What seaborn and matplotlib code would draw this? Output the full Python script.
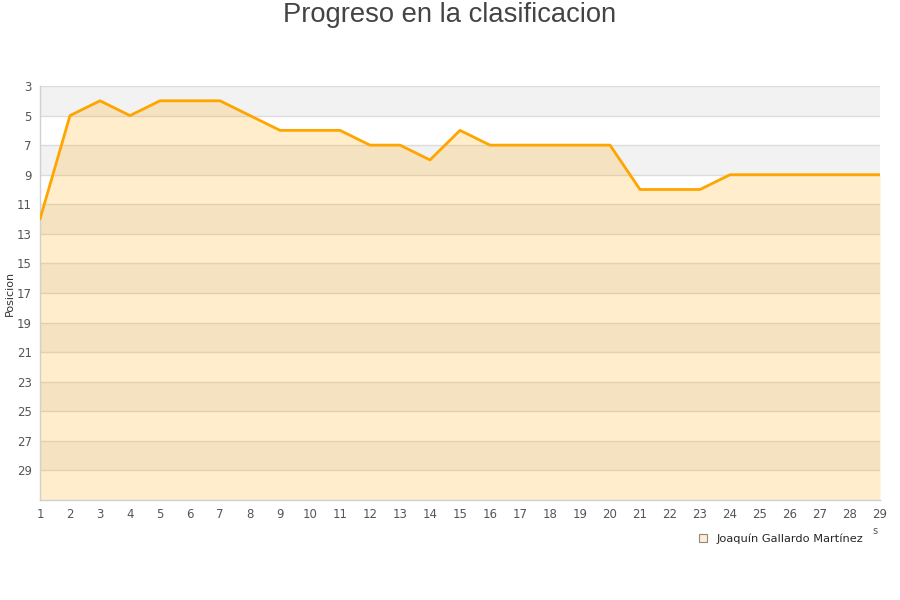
import numpy as np
import pandas as pd
import seaborn as sns
import matplotlib.pyplot as plt
from matplotlib.patches import Patch

# jornadas y posicion
jornadas = list(range(1, 30))
posicion = [12, 5, 4, 5, 4, 4, 4, 5, 6, 6, 6, 7, 7, 8, 6,
            7, 7, 7, 7, 7, 10, 10, 10, 9, 9, 9, 9, 9, 9]
y_ticks = list(range(3, 30, 2))
jugador = 'Joaquín Gallardo Martínez'

df = pd.DataFrame({'Jornada': jornadas, 'Posicion': posicion})

sns.set_style('white')
plt.rcParams['font.family'] = ['DejaVu Sans']

fig = plt.figure(figsize=(9, 6), dpi=100)
ax = fig.add_axes([40 / 900, 1 - 500 / 600, 840 / 900, 414 / 600])

# bandas grises alternas
for i, lo in enumerate(range(3, 31, 2)):
    if i % 2 == 0:
        ax.axhspan(lo, lo + 2, color='#f2f2f2', zorder=0, lw=0)
for t in y_ticks:
    ax.axhline(t, color='#dcdcdc', lw=1, zorder=1)

ax.fill_between(df['Jornada'], df['Posicion'], 31, color='#ffa500',
                alpha=0.2, lw=0, zorder=2)
sns.lineplot(data=df, x='Jornada', y='Posicion', color='#ffa500',
             lw=2, ax=ax, zorder=3)

ax.set_xlim(1, 29)
ax.set_ylim(31, 3)
ax.set_xticks(jornadas)
ax.set_yticks(y_ticks)
ax.tick_params(labelsize=8.5, colors='#555555', length=0, pad=6)
ax.set_xlabel('')
ax.set_ylabel('')

for s in ['top', 'right']:
    ax.spines[s].set_visible(False)
for s in ['left', 'bottom']:
    ax.spines[s].set_color('#d0d0d0')
    ax.spines[s].set_linewidth(1)

fig.text(10 / 900, 1 - 293 / 600, 'Posicion', rotation=90, ha='center',
         va='center', fontsize=8, color='#333333')
fig.text(0.5, 0.997, 'Progreso en la clasificacion', ha='center', va='top',
         fontsize=19.7, color='#444444', family='Liberation Sans')
fig.text(875 / 900, 1 - 531 / 600, 's', fontsize=7, color='#555555',
         ha='center', va='center')

handle = Patch(facecolor='#ffedcc', edgecolor='#888888', lw=0.8)
fig.legend([handle], [jugador], loc='center', bbox_to_anchor=(781 / 900, 1 - 539 / 600),
           frameon=False, fontsize=8.2, handlelength=0.7, handleheight=0.7,
           handletextpad=0.8)

plt.savefig('out.png', dpi=100)
